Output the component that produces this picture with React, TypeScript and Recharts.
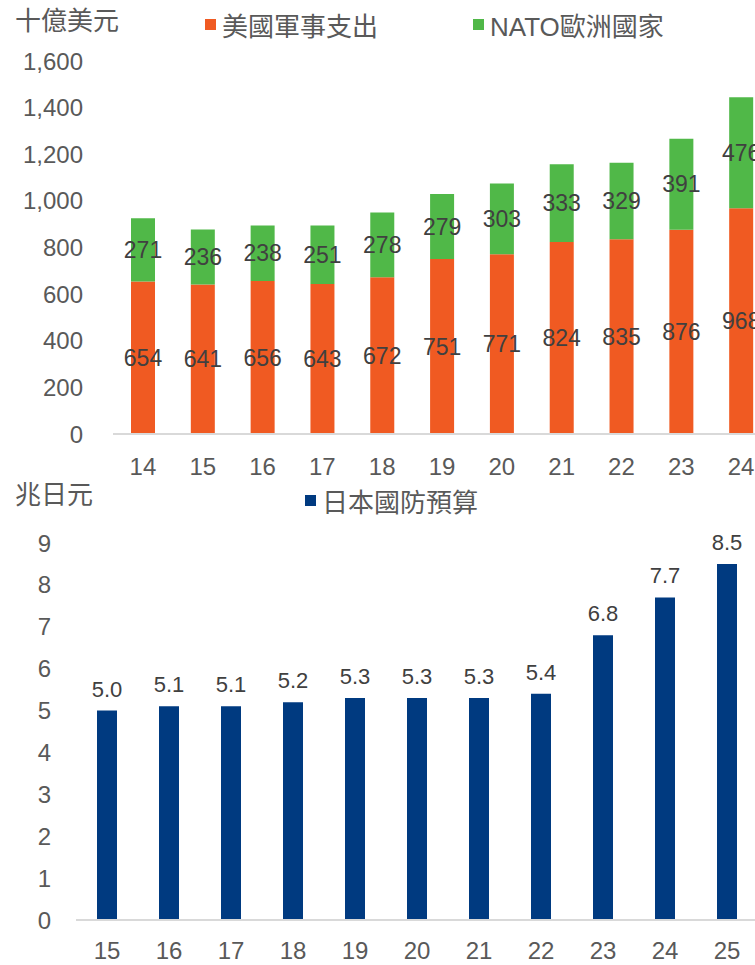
import { BarChart, Bar, XAxis, YAxis, LabelList, Legend } from 'recharts';

// top chart: US vs NATO Europe military spending (十億美元)
const years = ['14', '15', '16', '17', '18', '19', '20', '21', '22', '23', '24'];
const usSpending = [654, 641, 656, 643, 672, 751, 771, 824, 835, 876, 968];
const natoEurope = [271, 236, 238, 251, 278, 279, 303, 333, 329, 391, 476];
const usdTicks = [0, 200, 400, 600, 800, 1000, 1200, 1400, 1600];

// bottom chart: Japan defense budget (兆日元)
const jpYears = ['15', '16', '17', '18', '19', '20', '21', '22', '23', '24', '25'];
const jpBudget = [5.0, 5.1, 5.1, 5.2, 5.3, 5.3, 5.3, 5.4, 6.8, 7.7, 8.5];
const jpyTicks = [0, 1, 2, 3, 4, 5, 6, 7, 8, 9];

const ORANGE = '#F05A22';
const GREEN = '#50B848';
const NAVY = '#003A80';
const TEXT = '#595959';
const LABEL = '#404040';
const FONT = '"Liberation Sans", Arial, "Noto Sans CJK TC", sans-serif';

const topData = years.map((y, i) => ({ year: y, us: usSpending[i], nato: natoEurope[i] }));
const bottomData = jpYears.map((y, i) => ({ year: y, jp: jpBudget[i] }));

// legend box is 30px tall, recharts reserves that above the plot
const LEGEND_H = 30;

function LegendItems({ items }: { items: { name: string; color: string; x: number }[] }) {
    return (
        <div style={{ position: 'relative', height: LEGEND_H }}>
            {items.map((it) => (
                <div
                    key={it.name}
                    style={{
                        position: 'absolute',
                        left: it.x,
                        top: 0,
                        display: 'flex',
                        alignItems: 'center',
                        fontSize: 26,
                        color: TEXT,
                        whiteSpace: 'nowrap',
                    }}
                >
                    <span style={{ display: 'inline-block', width: 11, height: 11, background: it.color, marginRight: 6 }} />
                    {it.name}
                </div>
            ))}
        </div>
    );
}

export default function App() {
    return (
        <div
            style={{
                position: 'absolute',
                left: 0,
                top: 0,
                width: 755,
                height: 965,
                overflow: 'hidden',
                background: '#fff',
                fontFamily: FONT,
            }}
        >
            <div style={{ position: 'absolute', left: 15, top: 0, fontSize: 26, color: TEXT }}>十億美元</div>
            <div style={{ position: 'absolute', left: 0, top: 0 }}>
                <BarChart width={800} height={490} data={topData} margin={{ top: 61 - LEGEND_H, right: 29, bottom: 26, left: 0 }}>
                    <Legend
                        verticalAlign="top"
                        wrapperStyle={{ top: 6, left: 0 }}
                        content={() => (
                            <LegendItems
                                items={[
                                    { name: '美國軍事支出', color: ORANGE, x: 205 },
                                    { name: 'NATO歐洲國家', color: GREEN, x: 473 },
                                ]}
                            />
                        )}
                    />
                    <XAxis
                        dataKey="year"
                        height={30}
                        axisLine={{ stroke: '#D9D9D9', strokeWidth: 2 }}
                        tickLine={false}
                        tickMargin={18}
                        tick={{ fill: TEXT, fontSize: 24 }}
                    />
                    <YAxis
                        width={113}
                        domain={[0, 1600]}
                        ticks={usdTicks}
                        axisLine={false}
                        tickLine={false}
                        tickMargin={24}
                        tickFormatter={(v: number) => v.toLocaleString('en-US')}
                        tick={{ fill: TEXT, fontSize: 24 }}
                    />
                    <Bar dataKey="us" stackId="a" fill={ORANGE} barSize={24} isAnimationActive={false}>
                        <LabelList dataKey="us" position="center" fill={LABEL} fontSize={23} />
                    </Bar>
                    <Bar dataKey="nato" stackId="a" fill={GREEN} barSize={24} isAnimationActive={false}>
                        <LabelList dataKey="nato" position="center" fill={LABEL} fontSize={23} />
                    </Bar>
                </BarChart>
            </div>

            <div style={{ position: 'absolute', left: 15, top: 474, fontSize: 26, color: TEXT }}>兆日元</div>
            <div style={{ position: 'absolute', left: 0, top: 480 }}>
                <BarChart width={790} height={485} data={bottomData} margin={{ top: 63 - LEGEND_H, right: 32, bottom: 15, left: 0 }}>
                    <Legend
                        verticalAlign="top"
                        wrapperStyle={{ top: 2, left: 0 }}
                        content={() => <LegendItems items={[{ name: '日本國防預算', color: NAVY, x: 305 }]} />}
                    />
                    <XAxis
                        dataKey="year"
                        height={30}
                        axisLine={{ stroke: '#D9D9D9', strokeWidth: 2 }}
                        tickLine={false}
                        tickMargin={16}
                        tick={{ fill: TEXT, fontSize: 24 }}
                    />
                    <YAxis
                        width={76}
                        domain={[0, 9]}
                        ticks={jpyTicks}
                        axisLine={false}
                        tickLine={false}
                        tickMargin={19}
                        tick={{ fill: TEXT, fontSize: 24 }}
                    />
                    <Bar dataKey="jp" fill={NAVY} barSize={20} isAnimationActive={false}>
                        <LabelList
                            dataKey="jp"
                            position="top"
                            offset={14}
                            fill={LABEL}
                            fontSize={22}
                            formatter={(v: number) => v.toFixed(1)}
                        />
                    </Bar>
                </BarChart>
            </div>
        </div>
    );
}
